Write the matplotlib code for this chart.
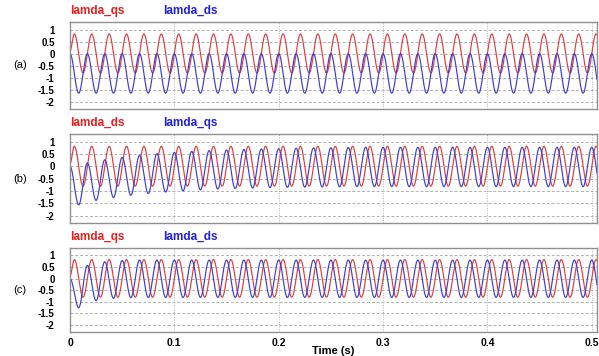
import numpy as np
import matplotlib.pyplot as plt

# === Veri (resimden okunan tepe / çukur değerleri) ===
period = 1 / 60.0
t_end = 0.505

panel_tags = ["(a)", "(b)", "(c)"]
red_names = ["lamda_qs", "lamda_ds", "lamda_qs"]
blue_names = ["lamda_ds", "lamda_qs", "lamda_ds"]

# kırmızı eğri: t=0 değeri, her periyottaki tepe ve çukur
red_start = [0.12, 0.12, 0.12]
red_peaks = [0.82] * 31
red_troughs = [-0.80] * 31

# mavi eğri (a): sabit ofset
a_blue_troughs = [-1.64] * 31
a_blue_peaks = [0.0] * 31

# mavi eğri (b): yavaş sönen DC ofset
b_blue_troughs = [-1.56, -1.38, -1.26, -1.17, -1.10, -1.04, -0.99, -0.95, -0.92,
                  -0.90, -0.88, -0.86, -0.85, -0.84, -0.83, -0.83] + [-0.82] * 15
b_blue_peaks = [0.14, 0.27, 0.37, 0.45, 0.52, 0.57, 0.61, 0.64, 0.67, 0.69,
                0.71, 0.72, 0.74, 0.75, 0.76, 0.77] + [0.78] * 15

# mavi eğri (c): hızlı sönen DC ofset
c_blue_troughs = [-1.25, -0.95, -0.85, -0.82] + [-0.81] * 27
c_blue_peaks = [0.57, 0.73, 0.78] + [0.80] * 28

blue_troughs = [a_blue_troughs, b_blue_troughs, c_blue_troughs]
blue_peaks = [a_blue_peaks, b_blue_peaks, c_blue_peaks]

y_ticks = [1, 0.5, 0, -0.5, -1, -1.5, -2]
y_labels = ["1", "0.5", "0", "-0.5", "-1", "-1.5", "-2"]
x_ticks = [0, 0.1, 0.2, 0.3, 0.4, 0.5]
x_labels = ["0", "0.1", "0.2", "0.3", "0.4", "0.5"]

RED = "#e03c3c"
BLUE = "#3c3cd4"
RED_TXT = "#e82020"
BLUE_TXT = "#2020e0"
FONT = "Liberation Sans"


def waveform(start, ext_t, ext_v, t):
    # ardışık tepe/çukurlar arasında yarım kosinüs geçişi
    times = np.concatenate([[0.0], ext_t])
    vals = np.concatenate([[start], ext_v])
    idx = np.clip(np.searchsorted(times, t, side="right") - 1, 0, len(times) - 2)
    s = (t - times[idx]) / (times[idx + 1] - times[idx])
    return vals[idx] + (vals[idx + 1] - vals[idx]) * (1 - np.cos(np.pi * s)) / 2


t = np.linspace(0, t_end, 6000)

fig = plt.figure(figsize=(5.99, 3.56), dpi=100)
W, H = 599.0, 356.0
boxes = [(22, 109), (134, 223), (248, 332)]  # (üst, alt) piksel
left_px, right_px = 70, 597

for i in range(3):
    top, bot = boxes[i]
    ax = fig.add_axes([left_px / W, (H - bot) / H, (right_px - left_px) / W, (bot - top) / H])

    n = len(red_peaks)
    rt = np.array([period / 4 + k * period / 2 for k in range(2 * n)])
    rv = np.array([red_peaks[k // 2] if k % 2 == 0 else red_troughs[k // 2] for k in range(2 * n)])
    bt = np.array([period / 2 + k * period / 2 for k in range(2 * n)])
    bv = np.array([blue_troughs[i][k // 2] if k % 2 == 0 else blue_peaks[i][k // 2] for k in range(2 * n)])

    ax.plot(t, waveform(red_start[i], rt, rv, t), color=RED, lw=0.85)
    ax.plot(t, waveform(0.0, bt, bv, t), color=BLUE, lw=0.85)

    ax.set_xlim(0, t_end)
    ax.set_ylim(-2.3, 1.32)
    ax.set_yticks(y_ticks)
    ax.set_yticklabels(y_labels, fontsize=7, fontweight="bold", family=FONT)
    ax.set_xticks(x_ticks)
    ax.tick_params(length=0)
    ax.tick_params(axis="y", pad=11)
    ax.tick_params(axis="x", pad=4)
    ax.yaxis.grid(True, color="#b0b0b0", ls=(0, (3, 2)), lw=0.7)
    ax.xaxis.grid(True, color="#b0b0b0", ls=(0, (1, 1.5)), lw=0.7)
    for sp in ax.spines.values():
        sp.set_color("#909090")
        sp.set_linewidth(1.0)

    if i < 2:
        ax.set_xticklabels([])
    else:
        ax.set_xticklabels(x_labels, fontsize=7.5, fontweight="bold", family=FONT)
        ax.set_xlabel("Time (s)", fontsize=8, fontweight="bold",
                      family=FONT, labelpad=-1)

    ax.text(0.0, 1.06, red_names[i], transform=ax.transAxes, color=RED_TXT,
            fontsize=8.5, fontweight="bold", family=FONT, va="bottom")
    ax.text(0.176, 1.06, blue_names[i], transform=ax.transAxes, color=BLUE_TXT,
            fontsize=8.5, fontweight="bold", family=FONT, va="bottom")
    fig.text(20 / W, 1 - (top + 0.5 * (bot - top)) / H, panel_tags[i],
             fontsize=8, family=FONT, ha="center", va="center")

fig.savefig("out.png", dpi=100)
